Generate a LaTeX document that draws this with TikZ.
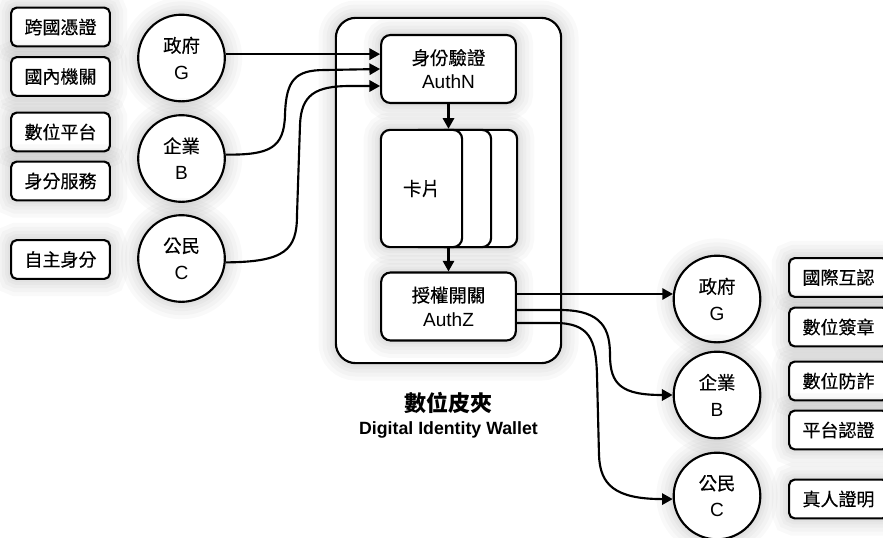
\documentclass[tikz,border=0pt]{standalone}
\usepackage{fontspec}
\setmainfont{Liberation Sans}
\newfontfamily\cjk[FakeBold=0.35]{Noto Sans CJK TC}
\newfontfamily\cjkbold{Noto Sans CJK TC}
\usetikzlibrary{arrows.meta}
\newcommand\zh[1]{{\cjk\fontsize{13.8}{18}\selectfont #1}}

\tikzset{
  halo/.style={preaction={draw=black,draw opacity=0.022,line width=#1}},
  glow/.style={halo=26pt,halo=20pt,halo=14pt,halo=9pt,halo=5pt},
  outline/.style={draw=black,line width=1.6pt,fill=white},
  tag/.style={outline,glow,rounded corners=4pt,minimum width=74pt,minimum height=29pt,
    inner sep=0pt,font=\fontsize{13.5}{16}\selectfont\cjk},
  party/.style={outline,glow,circle,minimum size=65pt,inner sep=0pt,align=center,
    font=\fontsize{14.3}{20}\selectfont},
  stage/.style={outline,glow,rounded corners=7pt,minimum width=101pt,minimum height=51pt,
    inner sep=0pt,align=center,font=\fontsize{14.3}{18}\selectfont},
  card/.style={outline,rounded corners=7pt,minimum width=61pt,minimum height=88pt,inner sep=0pt},
  flow/.style={line width=1.6pt,-{Triangle[length=8pt,width=8.5pt]}},
}

\begin{document}
\begin{tikzpicture}[x=0.75pt,y=-0.75pt]
\useasboundingbox (0,0) rectangle (883,537);

% wallet frame
\node[outline,glow,rounded corners=15pt,minimum width=169pt,minimum height=259pt] (wallet) at (448.5,190.5) {};
\node[font=\fontsize{16.5}{18}\selectfont\cjkbold\bfseries] (wname) at (448.5,403) {數位皮夾};
\node[font=\fontsize{13.3}{15}\selectfont\bfseries] (wsub) at (448.5,430) {Digital Identity Wallet};

% authentication and authorisation stages
\node[stage] (authn) at (448.5,69) {\zh{身份驗證}\\AuthN};
\node[stage] (authz) at (448.5,306.5) {\zh{授權開關}\\AuthZ};

% stack of cards
\node[glow,fill=white,minimum width=102pt,minimum height=88pt,rounded corners=7pt] (stack) at (449,188.5) {};
\node[card] (back) at (476.5,188.5) {};
\node[card] (mid) at (450.5,188.5) {};
\node[card,font=\fontsize{14}{16}\selectfont\cjk] (front) at (421.5,188.5) {卡片};

% issuers
\node[party] (lg) at (181.5,58) {\zh{政府}\\G};
\node[party] (lb) at (181.5,158.5) {\zh{企業}\\B};
\node[party] (lc) at (181.5,258.5) {\zh{公民}\\C};

\node[tag] (t1) at (60.5,27) {跨國憑證};
\node[tag] (t2) at (60.5,76.5) {國內機關};
\node[tag] (t3) at (60.5,132) {數位平台};
\node[tag] (t4) at (60.5,181) {身分服務};
\node[tag] (t5) at (60.5,259.5) {自主身分};

% relying parties
\node[party] (rg) at (717,299) {\zh{政府}\\G};
\node[party] (rb) at (717,395) {\zh{企業}\\B};
\node[party] (rc) at (717,496) {\zh{公民}\\C};

\node[tag] (s1) at (838.5,277.5) {國際互認};
\node[tag] (s2) at (838.5,327) {數位簽章};
\node[tag] (s3) at (838.5,381) {數位防詐};
\node[tag] (s4) at (838.5,430) {平台認證};
\node[tag] (s5) at (838.5,499) {真人證明};

% internal flow
\draw[flow] (authn.south) -- (authn.south |- front.north);
\draw[flow] (authn.south |- front.south) -- (authz.north);

% inbound connectors
\coordinate (inG) at (authn.west |- lg.5);
\coordinate (inB) at (authn.west);
\coordinate (inC) at ([yshift=-12.75pt]authn.west);
\draw[flow] (lg.5) -- (inG);
\draw[flow] (lb.5) .. controls (270,155) and (284,148) .. (285,115)
  .. controls (286,80) and (295,70) .. (325,70) -- (inB);
\draw[flow] (lc.-5) .. controls (285,262) and (297,250) .. (297,215) -- (300,125)
  .. controls (301,95) and (315,86) .. (350,86) -- (inC);

% outbound connectors
\coordinate (outG) at ([yshift=9.4pt]authz.east);
\coordinate (outB) at ([yshift=-2.6pt]authz.east);
\coordinate (outC) at ([yshift=-12.4pt]authz.east);
\draw[flow] (outG) -- (outG -| rg.173);
\draw[flow] (outB) -- (560,310) .. controls (603,310) and (610,330) .. (610,355)
  .. controls (610,385) and (622,395) .. (rb.west);
\draw[flow] (outC) -- (555,323) .. controls (590,323) and (596,340) .. (597,375) -- (599,455)
  .. controls (600,485) and (615,499) .. (rc.184);
\end{tikzpicture}
\end{document}
